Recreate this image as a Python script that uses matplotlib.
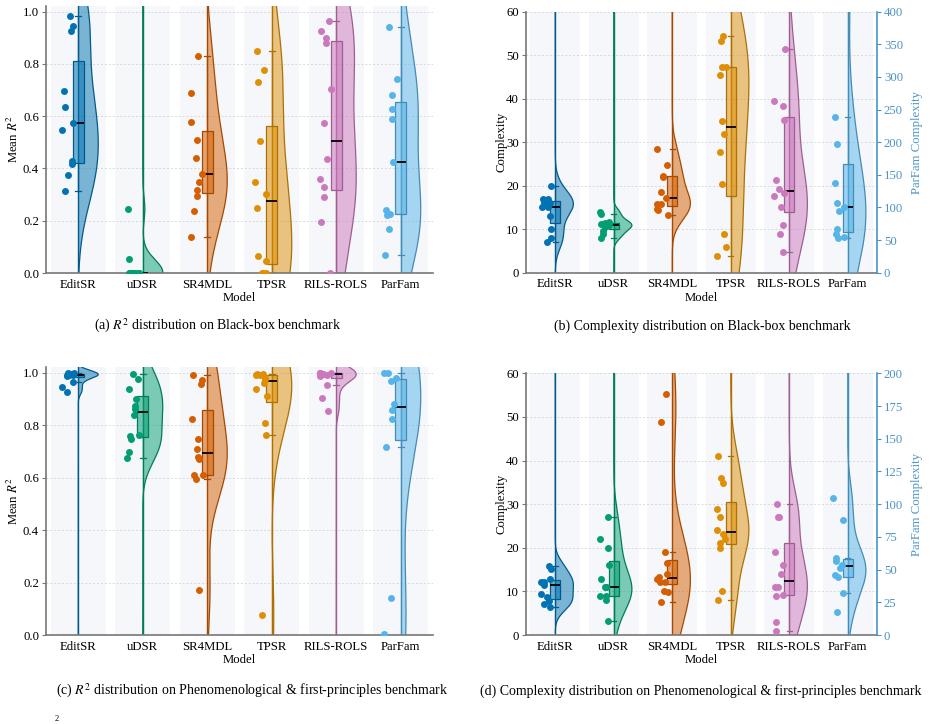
import numpy as np
import matplotlib
matplotlib.use("Agg")
import matplotlib.pyplot as plt
from matplotlib.colors import to_rgb

plt.rcParams['font.family'] = ['Liberation Serif', 'DejaVu Serif']
plt.rcParams['mathtext.fontset'] = 'stix'
plt.rcParams['font.size'] = 9.2

models = ['EditSR', 'uDSR', 'SR4MDL', 'TPSR', 'RILS-ROLS', 'ParFam']
colors = ['#0173b2', '#029e73', '#d55e00', '#de8f05', '#cc78bc', '#56b4e9']
twin_color = '#4c94c8'

# (a) R2, black-box benchmark
editsr_r2_bb = [0.985, 0.944, 0.925, 0.697, 0.637, 0.575, 0.548, 0.427, 0.416, 0.374, 0.314]
udsr_r2_bb = [0, 0, 0, 0, 0, 0, 0, 0, 0, 0.055, 0.245]
sr4mdl_r2_bb = [0.830, 0.690, 0.577, 0.511, 0.442, 0.379, 0.347, 0.317, 0.295, 0.238, 0.137]
tpsr_r2_bb = [0.851, 0.776, 0.732, 0.506, 0.349, 0.304, 0.250, 0.066, 0.046, 0.0, 0.0, 0.0]
rils_r2_bb = [0.964, 0.926, 0.900, 0.882, 0.706, 0.575, 0.436, 0.361, 0.328, 0.292, 0.195, 0.0]
parfam_r2_bb = [0.941, 0.741, 0.683, 0.626, 0.590, 0.423, 0.243, 0.227, 0.223, 0.169, 0.069]

# (b) complexity, black-box benchmark (ParFam on the right axis)
editsr_cx_bb = [20, 17, 17, 16, 16, 15, 15, 13, 10, 8, 7]
udsr_cx_bb = [13.9, 13.5, 11.6, 11.4, 11.2, 10.9, 10.8, 10.4, 9.6, 8.8, 8.0]
sr4mdl_cx_bb = [28.4, 24.8, 22.2, 22.1, 18.5, 17.2, 15.9, 15.9, 14.6, 14.3, 13.2]
tpsr_cx_bb = [54.5, 53.2, 47.3, 47.3, 45.4, 34.9, 31.9, 27.7, 20.5, 9.0, 5.9, 3.8]
rils_cx_bb = [51.4, 39.5, 38.3, 35.1, 21.3, 19.2, 18.3, 17.7, 15.0, 11.0, 8.8, 4.8]
parfam_cx_bb = [450, 238.6, 196.7, 137.9, 107.3, 101.1, 95.0, 66.4, 58.7, 54.7, 53.1]

# (c) R2, phenomenological & first-principles benchmark
editsr_r2_pf = [0.999, 0.998, 0.997, 0.996, 0.994, 0.993, 0.991, 0.990, 0.988, 0.966, 0.944, 0.926]
udsr_r2_pf = [0.995, 0.977, 0.939, 0.901, 0.875, 0.861, 0.839, 0.763, 0.758, 0.749, 0.699, 0.675]
sr4mdl_r2_pf = [0.992, 0.972, 0.958, 0.825, 0.748, 0.710, 0.678, 0.673, 0.611, 0.610, 0.596, 0.17]
tpsr_r2_pf = [0.997, 0.995, 0.992, 0.990, 0.981, 0.976, 0.962, 0.940, 0.913, 0.808, 0.762, 0.076]
rils_r2_pf = [1.0, 0.999, 0.999, 0.998, 0.997, 0.996, 0.994, 0.991, 0.988, 0.952, 0.904, 0.856]
parfam_r2_pf = [1.0, 1.0, 0.981, 0.969, 0.882, 0.859, 0.822, 0.718, 0.140, 0.003]

# (d) complexity, phenomenological & first-principles benchmark
editsr_cx_pf = [15.9, 15.1, 12.8, 12.2, 12.1, 11.4, 9.3, 8.6, 7.9, 7.0, 6.4]
udsr_cx_pf = [27.1, 22.0, 20.0, 16.1, 12.9, 11.0, 11.0, 10.9, 9.0, 9.0, 8.1, 3.1]
sr4mdl_cx_pf = [55.3, 48.8, 19.1, 16.5, 14.1, 13.3, 12.9, 12.2, 12.2, 10.2, 9.9, 7.6]
tpsr_cx_pf = [41.0, 36.0, 34.9, 29.0, 27.1, 24.0, 23.1, 21.9, 21.0, 20.0, 10.1, 8.0]
rils_cx_pf = [30.0, 27.1, 27.0, 19.0, 16.0, 14.0, 10.9, 10.9, 9.1, 9.0, 3.0, 1.0]
parfam_cx_pf = [104.7, 87.9, 59.1, 56.3, 53.5, 51.5, 45.9, 44.1, 31.8, 17.8]

captions = [
    '(a) $R^2$ distribution on Black-box benchmark',
    '(b) Complexity distribution on Black-box benchmark',
    '(c) $R^2$ distribution on Phenomenological & first-principles benchmark',
    '(d) Complexity distribution on Phenomenological & first-principles benchmark',
]

rng = np.random.default_rng(7)


def kde(vals, grid):
    v = np.asarray(vals, float)
    bw = v.std(ddof=1) * len(v) ** (-1 / 5)
    d = np.exp(-0.5 * ((grid[:, None] - v[None, :]) / bw) ** 2).sum(1)
    return d / d.max()


def raincloud(ax, i, vals, color, lo, hi):
    rgb = to_rgb(color)
    dark = tuple(c * 0.78 for c in rgb)
    grid = np.linspace(lo, hi, 600)
    w = kde(vals, grid) * 0.31
    ax.fill_betweenx(grid, i, i + w, facecolor=color, alpha=0.5, lw=0, zorder=2)
    ax.plot(i + w, grid, color=dark, lw=0.9, zorder=2.1)
    ax.plot([i, i], [lo, hi], color=dark, lw=1.0, zorder=2.1)
    ax.boxplot(vals, positions=[i], widths=0.165, patch_artist=True, showfliers=False,
               capwidths=0.09, manage_ticks=False, zorder=3,
               boxprops=dict(facecolor=(*rgb, 0.55), edgecolor=dark, lw=0.9),
               whiskerprops=dict(color=dark, lw=0.9),
               capprops=dict(color=dark, lw=0.9),
               medianprops=dict(color='black', lw=1.3))
    xj = i + rng.uniform(-0.26, -0.06, len(vals))
    ax.scatter(xj, vals, s=25, color=color, lw=0, zorder=4, clip_on=True)


def style_axes(ax, ylim, yticks, fmt):
    ax.set_xlim(-0.5, 5.5)
    ax.set_ylim(*ylim)
    for i in range(len(models)):
        ax.axvspan(i - 0.43, i + 0.43, color='#f5f7fa', lw=0, zorder=0)
    ax.set_axisbelow(True)
    ax.yaxis.grid(True, ls=(0, (2, 2)), color='#d6d9dd', lw=0.7)
    ax.set_yticks(yticks)
    ax.set_yticklabels([fmt.format(t) for t in yticks])
    ax.set_xticks(range(len(models)))
    ax.set_xticklabels(models)
    ax.tick_params(axis='x', length=0, pad=4)
    ax.tick_params(axis='y', length=3, color='#777777', pad=2)
    for s in ['top', 'right']:
        ax.spines[s].set_visible(False)
    for s in ['left', 'bottom']:
        ax.spines[s].set_color('#777777')
        ax.spines[s].set_linewidth(1.2)
    ax.set_xlabel('Model', labelpad=1)


fig = plt.figure(figsize=(9.3, 7.24), dpi=100)
W, H = 930, 724


def add_ax(x0, x1, ybot, ytop):
    return fig.add_axes([x0 / W, 1 - ybot / H, (x1 - x0) / W, (ybot - ytop) / H])


panels = [
    ([editsr_r2_bb, udsr_r2_bb, sr4mdl_r2_bb, tpsr_r2_bb, rils_r2_bb, parfam_r2_bb], None),
    ([editsr_cx_bb, udsr_cx_bb, sr4mdl_cx_bb, tpsr_cx_bb, rils_cx_bb], parfam_cx_bb),
    ([editsr_r2_pf, udsr_r2_pf, sr4mdl_r2_pf, tpsr_r2_pf, rils_r2_pf, parfam_r2_pf], None),
    ([editsr_cx_pf, udsr_cx_pf, sr4mdl_cx_pf, tpsr_cx_pf, rils_cx_pf], parfam_cx_pf),
]
boxes = [(46, 433, 273, 6), (526, 877, 272.7, 11.7), (46, 433, 635, 367), (526, 877, 635, 373.3)]
twin_lims = [None, 400, None, 200]
twin_steps = [None, 50, None, 25]
cap_pos = [(218, 326), (702, 326), (252, 691), (701, 691)]

for k in range(4):
    ax = add_ax(*boxes[k])
    series, twin = panels[k]
    x0, x1 = boxes[k][0], boxes[k][1]
    if twin is None:
        style_axes(ax, (0, 1.022), np.arange(0, 1.01, 0.2), '{:.1f}')
        ax.set_ylabel('Mean $R^2$')
        ax.yaxis.set_label_coords((21 - x0) / (x1 - x0), 0.5)
        for i, vals in enumerate(series):
            raincloud(ax, i, vals, colors[i], -0.1, 1.2)
    else:
        style_axes(ax, (0, 60), np.arange(0, 61, 10), '{:.0f}')
        ax.set_ylabel('Complexity')
        ax.yaxis.set_label_coords((507 - x0) / (x1 - x0), 0.5)
        for i, vals in enumerate(series):
            raincloud(ax, i, vals, colors[i], -5, 70)
        ax2 = ax.twinx()
        top = twin_lims[k]
        ax2.set_ylim(0, top)
        ax2.set_yticks(np.arange(0, top + 1, twin_steps[k]))
        for s in ['top', 'left', 'bottom']:
            ax2.spines[s].set_visible(False)
        ax2.spines['right'].set_color(twin_color)
        ax2.spines['right'].set_linewidth(1.2)
        ax2.tick_params(axis='y', colors=twin_color, length=3, pad=2)
        ax2.set_ylabel('ParFam Complexity', color=twin_color)
        ax2.yaxis.set_label_coords((911 - x0) / (x1 - x0), 0.5)
        raincloud(ax2, 5, twin, colors[5], -top * 0.1, top * 1.2)
    fig.text(cap_pos[k][0] / W, 1 - cap_pos[k][1] / H, captions[k],
             ha='center', va='center', fontsize=10)

fig.text(57 / W, 1 - 719 / H, '2', fontsize=6, ha='center', va='center')

fig.savefig('out.png', dpi=100)
